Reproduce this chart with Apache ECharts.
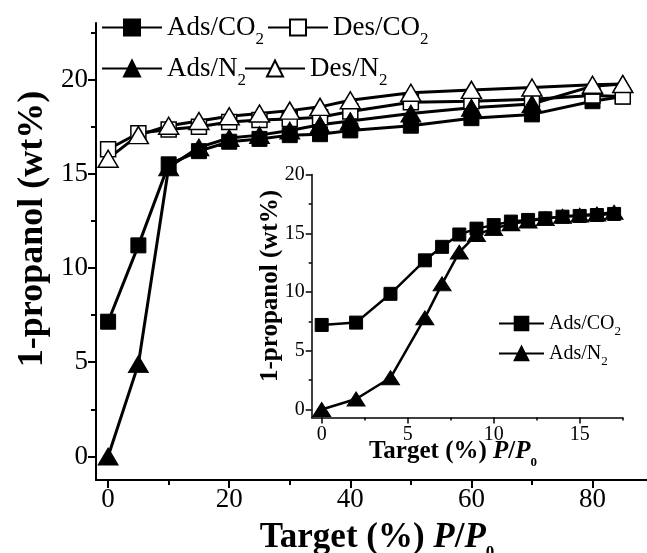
<!DOCTYPE html>
<html>
<head>
<meta charset="utf-8">
<script src="https://cdn.jsdelivr.net/npm/echarts@6/dist/echarts.min.js"></script>
<style>
  html, body { margin: 0; padding: 0; background: #fff; }
  #chart { width: 647px; height: 553px; }
</style>
</head>
<body>
<div id="chart"></div>
<script>
// Full isotherm: target relative pressure P/P0 (%) and 1-propanol uptake (wt%)
const pressure = [0, 5, 10, 15, 20, 25, 30, 35, 40, 50, 60, 70, 80, 85];
const adsCO2 = [7.15, 11.2, 15.5, 16.2, 16.7, 16.85, 17.05, 17.1, 17.3, 17.55, 17.95, 18.15, 18.85, 19.1];
const desCO2 = [16.3, 17.15, 17.35, 17.5, 17.75, 17.85, 17.9, 18.0, 18.3, 18.8, 18.85, 18.95, 19.15, 19.1];
const adsN2 = [0, 4.9, 15.35, 16.4, 16.9, 17.05, 17.3, 17.6, 17.8, 18.2, 18.5, 18.7, 19.65, 19.76];
const desN2 = [15.8, 17.05, 17.55, 17.8, 18.05, 18.2, 18.35, 18.55, 18.9, 19.3, 19.45, 19.58, 19.72, 19.76];

// Low-pressure detail (inset)
const pressureLow = [0, 2, 4, 6, 7, 8, 9, 10, 11, 12, 13, 14, 15, 16, 17];
const adsCO2Low = [7.2, 7.4, 9.85, 12.7, 13.85, 14.9, 15.4, 15.7, 16.0, 16.14, 16.28, 16.42, 16.48, 16.56, 16.65];
const adsN2Low = [0, 0.9, 2.7, 7.8, 10.7, 13.4, 14.9, 15.4, 15.8, 16.05, 16.25, 16.45, 16.55, 16.65, 16.8];

// Tick positions
const mainXLabels = [0, 20, 40, 60, 80];
const mainXMinor = [10, 30, 50, 70];
const mainYLabels = [0, 5, 10, 15, 20];
const mainYMinor = [2.5, 7.5, 12.5, 17.5, 22.5];
const insetXLabels = [0, 5, 10, 15];
const insetXMinor = [2.5, 7.5, 12.5, 17.5];
const insetYLabels = [0, 5, 10, 15, 20];
const insetYMinor = [2.5, 7.5, 12.5, 17.5];

const FONT = '"Times New Roman", "Liberation Serif", serif';

function pairs(xs, ys) { return xs.map((x, i) => [x, ys[i]]); }

function axis(kind, grid, min, max, opts) {
  return {
    type: 'value', gridIndex: grid, min: min, max: max,
    position: kind === 'x' ? 'bottom' : 'left',
    axisLine: { show: opts.line, onZero: false, lineStyle: { color: '#000', width: opts.width } },
    axisTick: { show: true, inside: false, customValues: opts.ticks, length: opts.tickLen,
                lineStyle: { color: '#000', width: opts.width } },
    axisLabel: { show: !!opts.labels, customValues: opts.labels || [], color: '#000',
                 fontFamily: FONT, fontSize: opts.fontSize || 12, margin: opts.margin || 8 },
    splitLine: { show: false },
    minorTick: { show: false }
  };
}

const subRich = (size, subSize, drop) => ({
  n: { fontFamily: FONT, fontSize: size, color: '#000', lineHeight: size + 4 },
  s: { fontFamily: FONT, fontSize: subSize, color: '#000', lineHeight: subSize, padding: [drop, 0, 0, 0] }
});
const legendNames = {
  'Ads/CO2': '{n|Ads/CO}{s|2}',
  'Des/CO2': '{n|Des/CO}{s|2}',
  'Ads/N2': '{n|Ads/N}{s|2}',
  'Des/N2': '{n|Des/N}{s|2}'
};

function legendItem(name, left, top, w, h, size, subSize, drop) {
  return {
    show: true, data: [name], left: left, top: top, padding: 0,
    itemWidth: w, itemHeight: h, selectedMode: false,
    formatter: n => legendNames[n],
    textStyle: { fontFamily: FONT, fontSize: size, color: '#000', rich: subRich(size, subSize, drop) }
  };
}

const openStyle = { color: '#fff', borderColor: '#000', borderWidth: 1.5 };
const filledStyle = { color: '#000', borderColor: '#000', borderWidth: 1 };

function series(name, xi, yi, data, symbol, size, filled, lw) {
  return {
    name: name, type: 'line', xAxisIndex: xi, yAxisIndex: yi, data: data,
    symbol: symbol, symbolSize: size, showAllSymbol: true,
    lineStyle: { color: '#000', width: lw },
    itemStyle: filled ? filledStyle : openStyle,
    emphasis: { disabled: true }, animation: false, clip: false
  };
}

const chart = echarts.init(document.getElementById('chart'), null, { renderer: 'canvas' });
chart.setOption({
  backgroundColor: '#fff',
  animation: false,
  grid: [
    { left: 96, right: 0, top: 23, bottom: 73 },
    { left: 311.7, top: 174.6, width: 311, height: 242.9 }
  ],
  xAxis: [
    axis('x', 0, -2, 89, { line: true, width: 2, ticks: mainXLabels, tickLen: 8, labels: mainXLabels, fontSize: 27, margin: 6 }),
    axis('x', 0, -2, 89, { line: false, width: 2, ticks: mainXMinor, tickLen: 5 }),
    axis('x', 1, -0.58, 17.5, { line: true, width: 1.5, ticks: insetXLabels, tickLen: 6, labels: insetXLabels, fontSize: 20, margin: 7 }),
    axis('x', 1, -0.58, 17.5, { line: false, width: 1.5, ticks: insetXMinor, tickLen: 3 })
  ],
  yAxis: [
    axis('y', 0, -1.25, 23, { line: true, width: 2, ticks: mainYLabels, tickLen: 8, labels: mainYLabels, fontSize: 27, margin: 8 }),
    axis('y', 0, -1.25, 23, { line: false, width: 2, ticks: mainYMinor, tickLen: 5 }),
    axis('y', 1, -0.68, 20, { line: true, width: 1.5, ticks: insetYLabels, tickLen: 6, labels: insetYLabels, fontSize: 20, margin: 7 }),
    axis('y', 1, -0.68, 20, { line: false, width: 1.5, ticks: insetYMinor, tickLen: 3 })
  ],
  legend: [
    legendItem('Ads/CO2', 101, 7, 60, 20, 27, 17, 24),
    legendItem('Des/CO2', 267, 7, 60, 20, 27, 17, 24),
    legendItem('Ads/N2', 101, 48, 60, 20, 27, 17, 24),
    legendItem('Des/N2', 244, 48, 60, 20, 27, 17, 24),
    legendItem('Ads/CO2', 498, 309, 45, 17, 20, 13, 16),
    legendItem('Ads/N2', 498, 339, 45, 17, 20, 13, 16)
  ],
  series: [
    series('Ads/CO2', 0, 0, pairs(pressure, adsCO2), 'rect', 15, true, 3),
    series('Des/CO2', 0, 0, pairs(pressure, desCO2), 'rect', 15, false, 3),
    series('Ads/N2', 0, 0, pairs(pressure, adsN2), 'triangle', [20, 17], true, 3),
    series('Des/N2', 0, 0, pairs(pressure, desN2), 'triangle', [20, 17], false, 3),
    series('Ads/CO2', 2, 2, pairs(pressureLow, adsCO2Low), 'rect', 13, true, 2.5),
    series('Ads/N2', 2, 2, pairs(pressureLow, adsN2Low), 'triangle', [18, 14], true, 2.5)
  ],
  graphic: [
    { type: 'text', x: 33, y: 229, rotation: Math.PI / 2,
      style: { text: '1-propanol (wt%)', fill: '#000', font: 'bold 36px ' + FONT, align: 'center', verticalAlign: 'middle' } },
    { type: 'text', x: 377, y: 538,
      style: {
        text: '{b|Target (%) }{i|P}{b|/}{i|P}{s|0}', align: 'center', verticalAlign: 'middle',
        rich: {
          b: { fontFamily: FONT, fontWeight: 'bold', fontSize: 35, fill: '#000' },
          i: { fontFamily: FONT, fontWeight: 'bold', fontStyle: 'italic', fontSize: 35, fill: '#000' },
          s: { fontFamily: FONT, fontWeight: 'bold', fontSize: 17, fill: '#000', padding: [30, 0, 0, 0] }
        }
      } },
    { type: 'text', x: 271, y: 286, rotation: Math.PI / 2,
      style: { text: '1-propanol (wt%)', fill: '#000', font: 'bold 25px ' + FONT, align: 'center', verticalAlign: 'middle' } },
    { type: 'text', x: 453, y: 452,
      style: {
        text: '{b|Target (%) }{i|P}{b|/}{i|P}{s|0}', align: 'center', verticalAlign: 'middle',
        rich: {
          b: { fontFamily: FONT, fontWeight: 'bold', fontSize: 25, fill: '#000' },
          i: { fontFamily: FONT, fontWeight: 'bold', fontStyle: 'italic', fontSize: 25, fill: '#000' },
          s: { fontFamily: FONT, fontWeight: 'bold', fontSize: 13, fill: '#000', padding: [22, 0, 0, 0] }
        }
      } }
  ]
});
</script>
</body>
</html>
